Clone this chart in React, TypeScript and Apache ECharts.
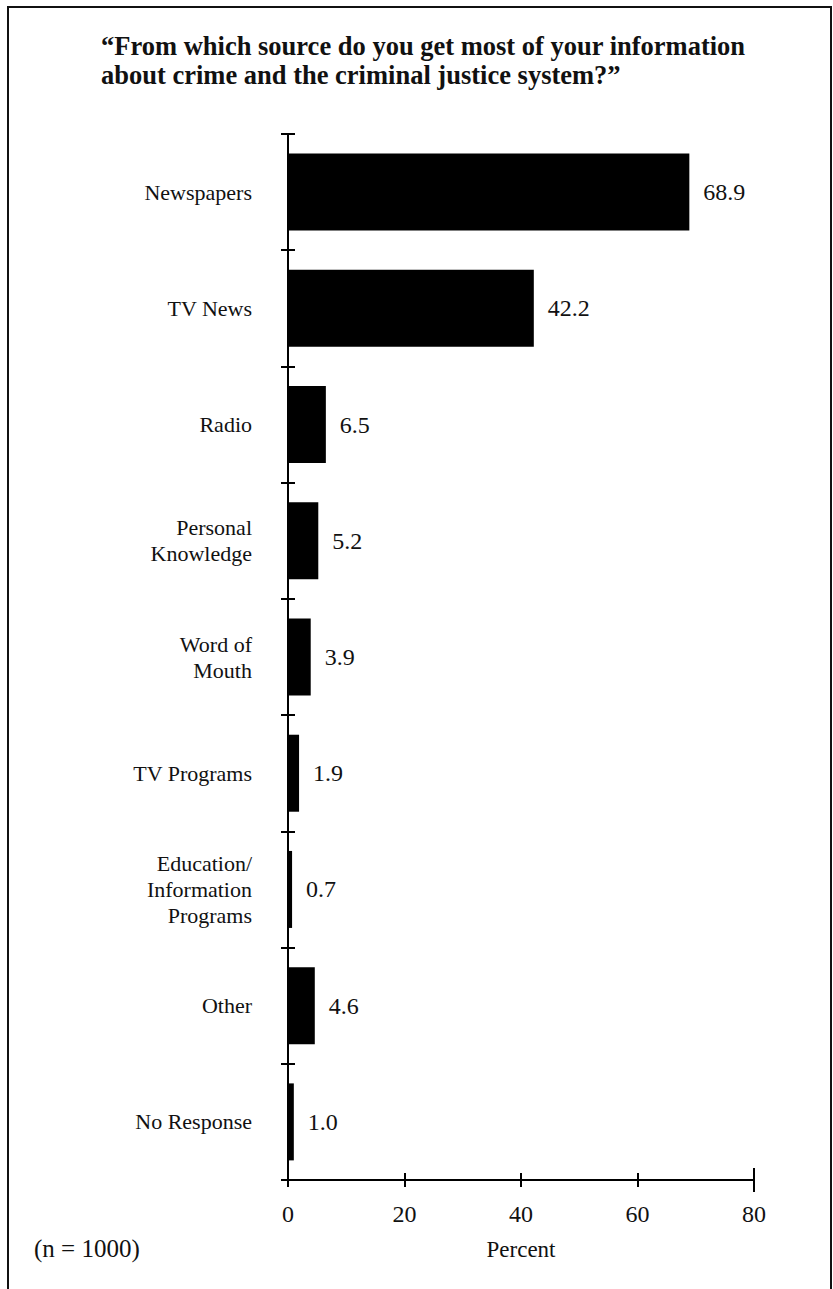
import React, { useEffect, useRef } from "react";
import * as echarts from "echarts";

const categories = [
  "Newspapers",
  "TV News",
  "Radio",
  "Personal\nKnowledge",
  "Word of\nMouth",
  "TV Programs",
  "Education/\nInformation\nPrograms",
  "Other",
  "No Response",
];
const values = [68.9, 42.2, 6.5, 5.2, 3.9, 1.9, 0.7, 4.6, 1.0];
const xTicks = [0, 20, 40, 60, 80];
const titleLines = [
  "\u201cFrom which source do you get most of your information",
  "about crime and the criminal justice system?\u201d",
];
const noteText = "(n = 1000)";
const xAxisName = "Percent";

const FONT = "'Liberation Serif', 'DejaVu Serif', serif";

export default function App() {
  const ref = useRef<HTMLDivElement>(null);
  useEffect(() => {
    if (!ref.current) return;
    const chart = echarts.init(ref.current, undefined, { renderer: "svg" });
    const gridLeft = 288;
    const gridTop = 134;
    const gridWidth = 466;
    const gridHeight = 1046;
    const xMin = xTicks[0];
    const xMax = xTicks[xTicks.length - 1];
    const interval = xTicks[1] - xTicks[0];
    const lineStyle = { color: "#000", width: 2 };

    const baseX = {
      type: "value" as const,
      min: xMin,
      max: xMax,
      interval,
      position: "bottom" as const,
      splitLine: { show: false },
      axisLine: { show: true, lineStyle },
    };
    const baseY = {
      type: "category" as const,
      data: categories,
      inverse: true,
      position: "left" as const,
      axisLine: { show: true, lineStyle },
      splitLine: { show: false },
    };

    chart.setOption({
      animation: false,
      backgroundColor: "#fff",
      grid: { left: gridLeft, top: gridTop, width: gridWidth, height: gridHeight, containLabel: false },
      title: {
        text: titleLines.join("\n"),
        left: 96,
        top: 26,
        textStyle: {
          fontFamily: FONT,
          fontSize: 26.5,
          fontWeight: "bold",
          color: "#111",
          lineHeight: 29,
        },
      },
      xAxis: [
        {
          ...baseX,
          name: xAxisName,
          nameLocation: "middle",
          nameGap: 58,
          nameTextStyle: { fontFamily: FONT, fontSize: 23, color: "#111" },
          axisTick: { show: true, inside: false, length: 7, lineStyle },
          axisLabel: { show: true, margin: 22, fontFamily: FONT, fontSize: 24, color: "#111" },
        },
        {
          ...baseX,
          axisTick: { show: true, inside: true, length: 7, lineStyle },
          axisLabel: { show: false },
        },
        {
          ...baseX,
          axisLine: { show: false },
          axisTick: { show: true, inside: false, length: 12, customValues: [xMax], lineStyle },
          axisLabel: { show: false },
        },
        {
          ...baseX,
          axisLine: { show: false },
          axisTick: { show: true, inside: true, length: 12, customValues: [xMax], lineStyle },
          axisLabel: { show: false },
        },
      ],
      yAxis: [
        {
          ...baseY,
          axisTick: { show: true, inside: false, length: 7, lineStyle },
          axisLabel: {
            show: true,
            margin: 36,
            fontFamily: FONT,
            fontSize: 22,
            lineHeight: 26,
            color: "#111",
            align: "right",
          },
        },
        {
          ...baseY,
          axisTick: { show: true, inside: true, length: 7, lineStyle },
          axisLabel: { show: false },
        },
      ],
      graphic: [
        {
          type: "rect",
          shape: { x: 8, y: 7, width: 823, height: 1300 },
          style: { fill: "none", stroke: "#111", lineWidth: 2 },
          silent: true,
          z: 0,
        },
        {
          type: "text",
          left: 34,
          top: 1236,
          style: { text: noteText, fontFamily: FONT, fontSize: 25, fill: "#111" },
        },
      ],
      series: [
        {
          type: "bar",
          xAxisIndex: 0,
          yAxisIndex: 0,
          data: values,
          barWidth: 77,
          itemStyle: { color: "#000" },
          label: {
            show: true,
            position: "right",
            distance: 14,
            fontFamily: FONT,
            fontSize: 24,
            color: "#111",
            formatter: (p: any) => Number(p.value).toFixed(1),
          },
          z: 3,
        },
      ],
    });
    return () => chart.dispose();
  }, []);
  return (
    <div
      ref={ref}
      style={{ position: "absolute", left: 0, top: 0, width: 833, height: 1289 }}
    />
  );
}
